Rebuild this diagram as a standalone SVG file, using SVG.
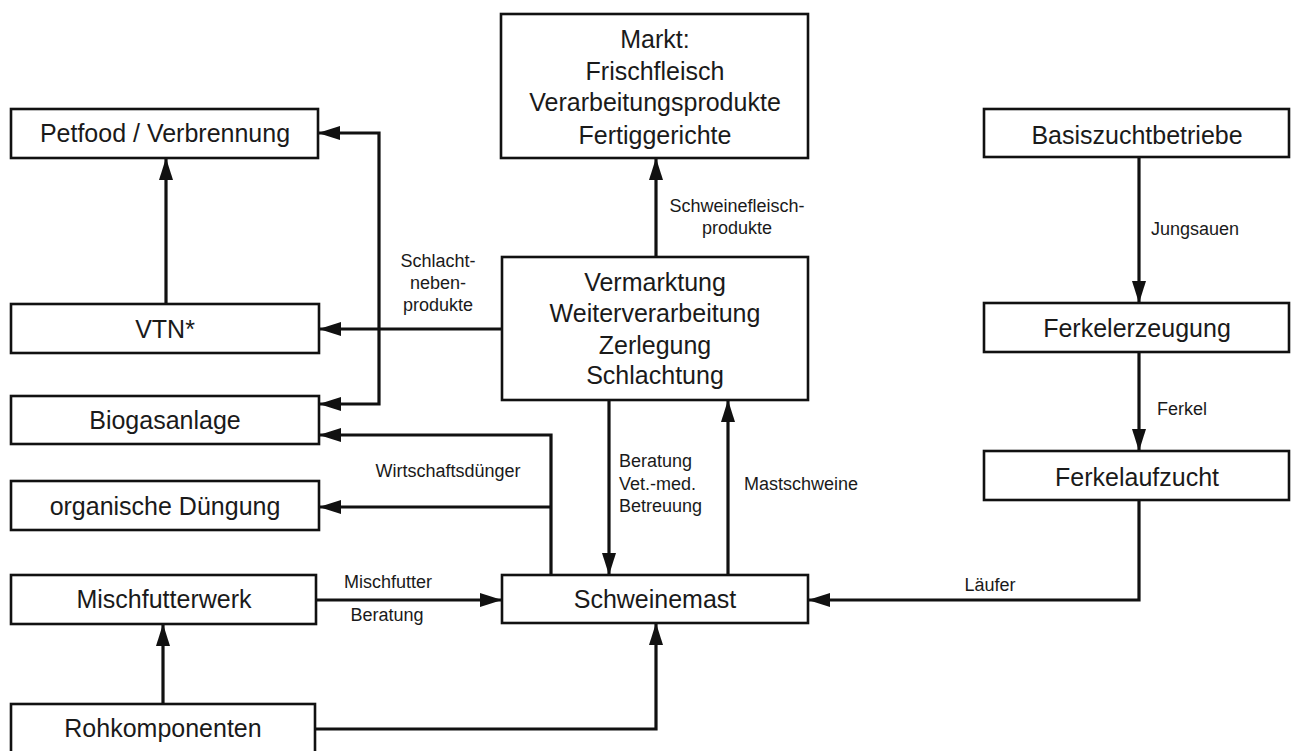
<svg xmlns="http://www.w3.org/2000/svg" width="1291" height="751" viewBox="0 0 1291 751">
  <style>
    .box { fill: #ffffff; stroke: #111111; stroke-width: 2.6; }
    .big { font-family: "Liberation Sans", Arial, sans-serif; font-size: 25px; fill: #1a1a1a; text-anchor: middle; }
    .small { font-family: "Liberation Sans", Arial, sans-serif; font-size: 18px; fill: #1a1a1a; }
    .mid { text-anchor: middle; }
    .conn { fill: none; stroke: #111111; stroke-width: 3.2; marker-end: url(#arrow); }
  </style>
  <defs>
    <marker id="arrow" markerUnits="userSpaceOnUse" markerWidth="22" markerHeight="16" viewBox="0 0 22 16" refX="21" refY="8" orient="auto">
      <path d="M0,1 L22,8 L0,15 Z" fill="#111111"/>
    </marker>
  </defs>

  <rect width="1291" height="751" fill="#ffffff"/>

  <!-- connectors -->
  <g id="connectors">
    <path class="conn" d="M166,304 V159"/>
    <path class="conn" d="M502,329 H320"/>
    <path class="conn" d="M379,329 V133 H319"/>
    <path class="conn" d="M379,329 V404 H320"/>
    <path class="conn" d="M656,257 V159"/>
    <path class="conn" d="M609,400 V574"/>
    <path class="conn" d="M728,575 V401"/>
    <path class="conn" d="M551,575 V435 H320"/>
    <path class="conn" d="M551,507 H320"/>
    <path class="conn" d="M316,600 H501"/>
    <path class="conn" d="M163,704 V625"/>
    <path class="conn" d="M315,729 H656 V624"/>
    <path class="conn" d="M1139,157 V302"/>
    <path class="conn" d="M1139,352 V450"/>
    <path class="conn" d="M1139,500 V600 H809"/>

    <text class="small mid" x="737" y="212">Schweinefleisch-</text>
    <text class="small mid" x="737" y="234">produkte</text>
    <text class="small mid" x="438" y="267">Schlacht-</text>
    <text class="small mid" x="438" y="289">neben-</text>
    <text class="small mid" x="438" y="311">produkte</text>
    <text class="small mid" x="448" y="477">Wirtschaftsdünger</text>
    <text class="small mid" x="388" y="588">Mischfutter</text>
    <text class="small mid" x="387" y="621">Beratung</text>
    <text class="small" x="619" y="467">Beratung</text>
    <text class="small" x="619" y="490">Vet.-med.</text>
    <text class="small" x="619" y="512">Betreuung</text>
    <text class="small" x="744" y="490">Mastschweine</text>
    <text class="small" x="1151" y="235">Jungsauen</text>
    <text class="small" x="1157" y="415">Ferkel</text>
    <text class="small mid" x="990" y="591">Läufer</text>
  </g>

  <!-- left column -->
  <g id="petfood">
    <rect class="box" x="11" y="109" width="307" height="49"/>
    <text class="big" x="165" y="142">Petfood / Verbrennung</text>
  </g>
  <g id="vtn">
    <rect class="box" x="11" y="304" width="308" height="49"/>
    <text class="big" x="165" y="338">VTN*</text>
  </g>
  <g id="biogasanlage">
    <rect class="box" x="11" y="396" width="308" height="48"/>
    <text class="big" x="165" y="429">Biogasanlage</text>
  </g>
  <g id="organische-duengung">
    <rect class="box" x="11" y="481" width="308" height="49"/>
    <text class="big" x="165" y="515">organische Düngung</text>
  </g>
  <g id="mischfutterwerk">
    <rect class="box" x="11" y="575" width="305" height="49"/>
    <text class="big" x="164" y="608">Mischfutterwerk</text>
  </g>
  <g id="rohkomponenten">
    <rect class="box" x="11" y="704" width="304" height="60"/>
    <text class="big" x="163" y="737">Rohkomponenten</text>
  </g>

  <!-- middle column -->
  <g id="markt">
    <rect class="box" x="501" y="14" width="307" height="144"/>
    <text class="big" x="655" y="48">Markt:</text>
    <text class="big" x="655" y="80">Frischfleisch</text>
    <text class="big" x="655" y="111">Verarbeitungsprodukte</text>
    <text class="big" x="655" y="144">Fertiggerichte</text>
  </g>
  <g id="vermarktung">
    <rect class="box" x="502" y="257" width="306" height="143"/>
    <text class="big" x="655" y="291">Vermarktung</text>
    <text class="big" x="655" y="322">Weiterverarbeitung</text>
    <text class="big" x="655" y="354">Zerlegung</text>
    <text class="big" x="655" y="384">Schlachtung</text>
  </g>
  <g id="schweinemast">
    <rect class="box" x="502" y="575" width="306" height="48"/>
    <text class="big" x="655" y="608">Schweinemast</text>
  </g>

  <!-- right column -->
  <g id="basiszuchtbetriebe">
    <rect class="box" x="984" y="109" width="305" height="48"/>
    <text class="big" x="1137" y="144">Basiszuchtbetriebe</text>
  </g>
  <g id="ferkelerzeugung">
    <rect class="box" x="984" y="303" width="305" height="49"/>
    <text class="big" x="1137" y="337">Ferkelerzeugung</text>
  </g>
  <g id="ferkelaufzucht">
    <rect class="box" x="984" y="451" width="305" height="49"/>
    <text class="big" x="1137" y="486">Ferkelaufzucht</text>
  </g>
</svg>
